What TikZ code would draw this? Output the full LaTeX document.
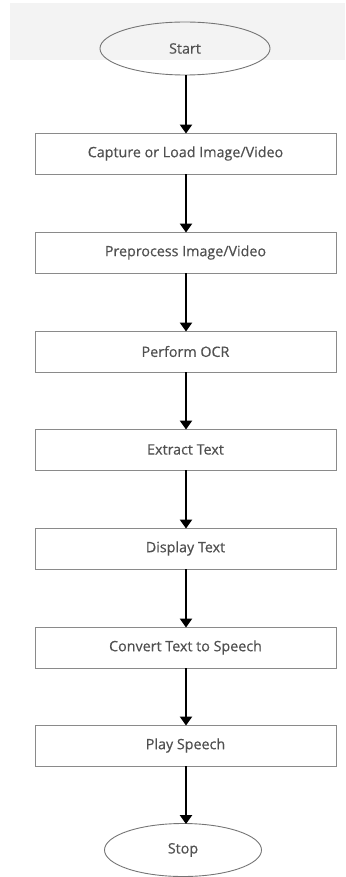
\documentclass[tikz,border=0pt]{standalone}
\usepackage{fontspec}
\setmainfont{Open Sans}
\newfontfamily\labelfam{Open Sans}[FakeBold=0.45]
\usetikzlibrary{shapes.geometric,arrows.meta}
\definecolor{bandgray}{HTML}{F3F3F3}
\definecolor{linegray}{HTML}{8A8A8A}
\definecolor{textgray}{HTML}{505050}
\tikzset{
  labelfont/.style={font=\labelfam\fontsize{14.3}{16}\selectfont},
  stepbox/.style={draw=linegray, line width=0.9pt, minimum width=301pt, minimum height=41pt,
    inner sep=0pt, text=textgray, labelfont},
  terminal/.style={ellipse, draw=linegray!85!black, line width=0.9pt, inner sep=0pt,
    text=textgray, labelfont},
  flow/.style={draw=black, line width=2.6pt, -{Triangle[width=12pt,length=9pt]}, shorten >=-1pt}
}
\begin{document}
\begin{tikzpicture}[x=1pt,y=-1pt]
  \useasboundingbox (0,0) rectangle (345,877);
  % faint banner behind the start terminal
  \fill[bandgray] (10,3) rectangle (345,60);
  \node[terminal, minimum width=170pt, minimum height=53pt] (start) at (185,48.5) {Start};
  \node[stepbox] (s1) at (185.5,153.5) {Capture or Load Image/Video};
  \node[stepbox] (s2) at (185.5,252.5) {Preprocess Image/Video};
  \node[stepbox] (s3) at (185.5,351.5) {Perform OCR};
  \node[stepbox] (s4) at (185.5,449.5) {Extract Text};
  \node[stepbox] (s5) at (185.5,548.5) {Display Text};
  \node[stepbox] (s6) at (185.5,647.5) {Convert Text to Speech};
  \node[stepbox] (s7) at (185.5,745.5) {Play Speech};
  \node[terminal, minimum width=157pt, minimum height=53pt] (stop) at (183,850) {Stop};
  \foreach \a/\b in {start/s1,s1/s2,s2/s3,s3/s4,s4/s5,s5/s6,s6/s7,s7/stop}
    \draw[flow] (\a.south -| 186,0) -- (\b.north -| 186,0);
\end{tikzpicture}
\end{document}
